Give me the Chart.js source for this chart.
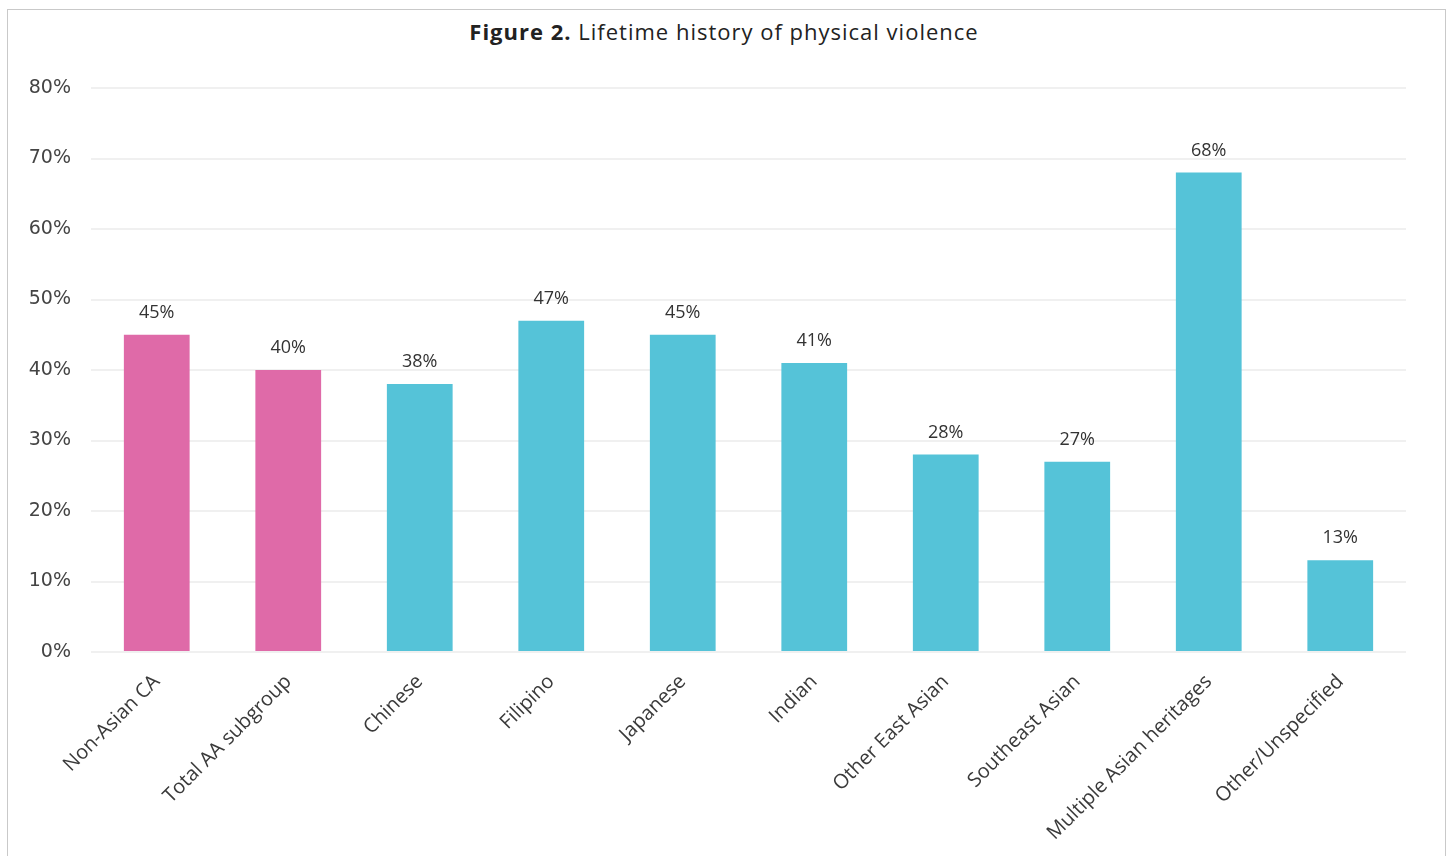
<!DOCTYPE html>
<html>
<head>
<meta charset="utf-8">
<script src="https://cdn.jsdelivr.net/npm/chart.js@4"></script>
<style>
  html, body { margin: 0; padding: 0; background: #fff; }
  body { width: 1448px; height: 856px; overflow: hidden; position: relative; }
  .frame {
    position: absolute; left: 7px; top: 9px; width: 1439px; height: 900px;
    border: 1px solid #c9c9c9; box-sizing: border-box;
  }
  .title {
    position: absolute; left: 0; top: 16px; width: 1448px; text-align: center;
    font-family: "Open Sans", sans-serif; font-size: 22px; letter-spacing: 1px; color: #222;
  }
  .title b { font-weight: 700; }
  .wrap { position: absolute; left: 0; top: 0; width: 1448px; height: 856px; }
</style>
</head>
<body>
<div class="frame"></div>
<div class="title"><b>Figure 2.</b> Lifetime history of physical violence</div>
<div class="wrap"><canvas id="barChart"></canvas></div>
<script>
// Lifetime history of physical violence, by group (%)
const categories = [
  "Non-Asian CA", "Total AA subgroup", "Chinese", "Filipino", "Japanese",
  "Indian", "Other East Asian", "Southeast Asian", "Multiple Asian heritages",
  "Other/Unspecified"
];
const values = [45, 40, 38, 47, 45, 41, 28, 27, 68, 13];
const yTicks = [0, 10, 20, 30, 40, 50, 60, 70, 80];

const pink = "#df6aa8";
const cyan = "#55c3d8";
// first two bars are the comparison groups
const barColors = values.map((v, i) => i < 2 ? pink : cyan);

// value labels above each bar
const valueLabels = {
  id: "valueLabels",
  afterDatasetsDraw(chart) {
    const { ctx } = chart;
    const meta = chart.getDatasetMeta(0);
    ctx.save();
    ctx.font = "18px 'Open Sans', sans-serif";
    ctx.fillStyle = "#333";
    ctx.textAlign = "center";
    ctx.textBaseline = "middle";
    meta.data.forEach((bar, i) => {
      ctx.fillText(values[i] + "%", bar.x, bar.y - 22);
    });
    ctx.restore();
  }
};

const barCtx = document.getElementById("barChart");
new Chart(barCtx, {
  type: "bar",
  data: {
    labels: categories,
    datasets: [{
      data: values,
      backgroundColor: barColors,
      barPercentage: 0.5,
      categoryPercentage: 1.0
    }]
  },
  options: {
    responsive: true,
    maintainAspectRatio: false,
    animation: false,
    layout: { padding: { top: 88, right: 42, left: 0, bottom: 0 } },
    plugins: {
      legend: { display: false },
      tooltip: { enabled: false }
    },
    scales: {
      x: {
        grid: { display: false },
        border: { display: false },
        ticks: {
          autoSkip: false,
          minRotation: 45,
          maxRotation: 45,
          padding: 10,
          color: "#3a3a3a",
          font: { family: "'Open Sans', sans-serif", size: 20 }
        },
        afterFit(scale) { scale.height = 204; }
      },
      y: {
        min: 0,
        max: 80,
        afterBuildTicks(scale) {
          scale.ticks = yTicks.map(v => ({ value: v }));
        },
        grid: { color: "#f0f0f0", lineWidth: 2, drawTicks: false },
        border: { display: false },
        ticks: {
          padding: 20,
          color: "#444",
          font: { family: "'DejaVu Sans', sans-serif", size: 19 },
          callback: v => v + "%"
        },
        afterFit(scale) { scale.width = 91; }
      }
    }
  },
  plugins: [valueLabels]
});
</script>
</body>
</html>
